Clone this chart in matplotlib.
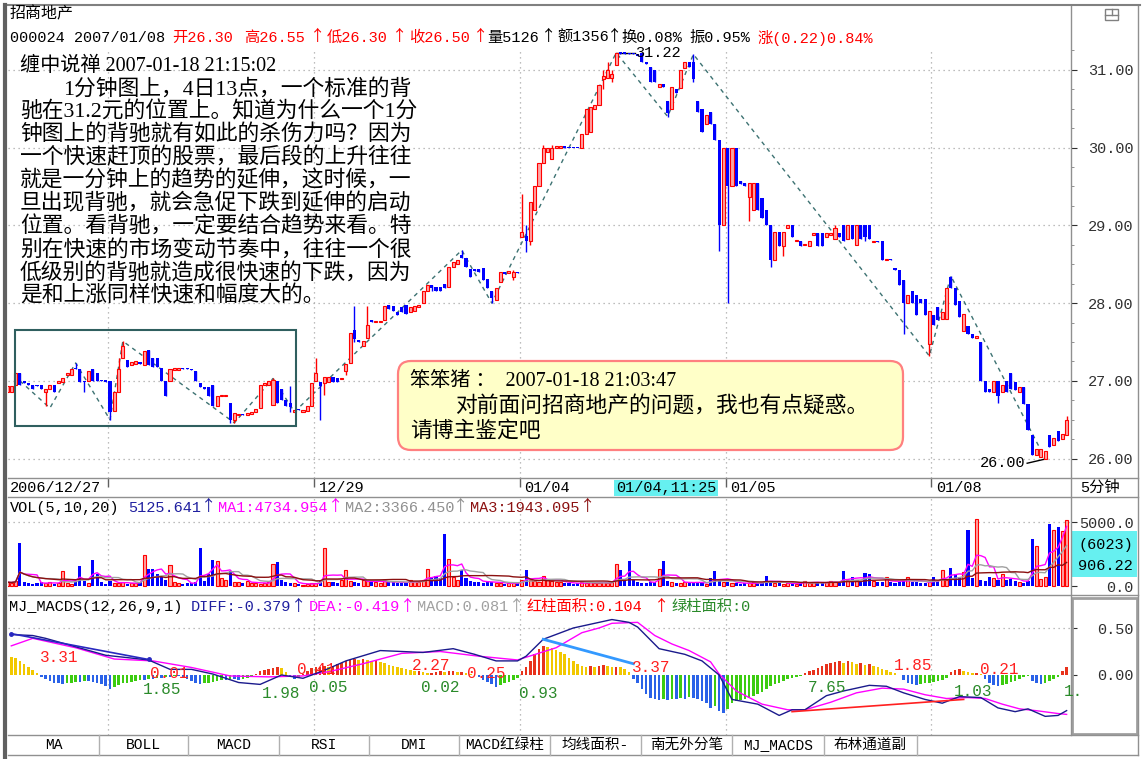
import numpy as np
import pandas as pd
import matplotlib
matplotlib.use("Agg")
import matplotlib.pyplot as plt
from matplotlib.patches import Rectangle, FancyBboxPatch

W, H = 1147, 759
MONO = ['Liberation Mono', 'Noto Sans CJK SC']
CJK = ['Noto Sans CJK SC', 'DejaVu Sans']
SERIF = ['Liberation Serif', 'Noto Sans CJK SC']

# ---- 000024 招商地产, 5-minute bars 2006/12/27 .. 2007/01/08 ----
opens = [
    26.86, 26.86, 26.95, 27.10, 27.00, 26.97, 26.95, 26.94, 26.95, 26.86,
    26.90, 26.95, 26.97, 26.98, 27.08, 27.07, 27.17, 27.15, 27.00, 27.00,
    27.15, 27.10, 27.01, 27.00, 27.00, 26.61, 26.86, 27.30, 27.27, 27.21,
    27.22, 27.24, 27.21, 27.40, 27.30, 27.30, 27.16, 27.00, 27.00, 27.14,
    27.14, 27.16, 27.16, 27.15, 27.12, 26.97, 26.92, 26.92, 26.95, 26.68,
    26.80, 26.80, 26.72, 26.50, 26.56, 26.57, 26.56, 26.57, 26.60, 26.65,
    26.95, 26.95, 26.69, 27.00, 26.90, 26.75, 26.72, 26.60, 26.64, 26.60,
    26.61, 26.68, 27.00, 26.99, 26.97, 26.98, 27.05, 27.03, 27.02, 27.12,
    27.23, 27.66, 27.53, 27.45, 27.55, 27.78, 27.76, 27.76, 27.78, 27.97,
    27.96, 27.88, 27.95, 27.98, 27.88, 27.90, 27.95, 28.00, 28.15, 28.23,
    28.21, 28.21, 28.25, 28.21, 28.47, 28.50, 28.62, 28.58, 28.44, 28.44,
    28.44, 28.45, 28.31, 28.15, 28.04, 28.27, 28.40, 28.39, 28.33, 28.40,
    28.85, 28.86, 28.80, 29.20, 29.50, 29.80, 29.94, 29.85, 30.00, 30.00,
    30.01, 30.00, 30.00, 30.00, 30.00, 30.17, 30.20, 30.50, 30.55, 30.88,
    30.90, 30.90, 31.06, 31.22, 31.22, 31.22, 31.22, 31.20, 31.22, 31.10,
    31.04, 31.00, 30.78, 30.82, 30.60, 30.50, 30.76, 30.77, 31.03, 31.10,
    31.10, 30.60, 30.50, 30.30, 30.46, 30.30, 30.10, 29.00, 30.00, 29.50,
    30.00, 29.57, 29.55, 29.36, 29.20, 29.55, 29.35, 29.20, 29.00, 28.55,
    28.92, 28.73, 28.97, 29.00, 28.80, 28.80, 28.75, 28.73, 28.88, 28.90,
    28.90, 28.85, 28.87, 28.83, 28.90, 29.00, 28.82, 29.00, 28.75, 29.00,
    29.00, 29.00, 28.79, 28.80, 28.80, 28.55, 28.57, 28.45, 28.43, 28.30,
    28.00, 28.15, 28.10, 28.05, 28.05, 27.48, 27.85, 27.95, 27.80, 27.80,
    28.33, 28.20, 28.03, 27.64, 27.70, 27.60, 27.55, 27.50, 27.00, 26.90,
    26.85, 27.00, 26.85, 27.00, 27.10, 26.98, 26.85, 26.92, 26.70, 26.30,
    26.05, 26.02, 26.00, 26.30, 26.17, 26.35, 26.25, 26.30,
]
closes = [
    26.93, 26.93, 27.10, 26.95, 26.97, 26.95, 26.90, 26.93, 26.90, 26.90,
    26.95, 26.86, 27.00, 27.03, 27.10, 27.15, 27.15, 26.99, 26.98, 27.13,
    27.00, 27.00, 27.00, 26.99, 26.60, 26.86, 27.15, 27.45, 27.18, 27.24,
    27.26, 27.22, 27.39, 27.20, 27.18, 27.18, 27.00, 26.80, 27.15, 27.16,
    27.16, 27.15, 27.15, 27.14, 27.00, 26.92, 26.90, 26.80, 26.68, 26.80,
    26.81, 26.81, 26.50, 26.58, 26.57, 26.56, 26.58, 26.60, 26.64, 26.95,
    26.97, 27.00, 27.01, 26.72, 26.75, 26.68, 26.66, 26.63, 26.62, 26.63,
    26.68, 26.97, 27.10, 26.93, 27.05, 27.05, 26.98, 26.98, 27.04, 27.22,
    27.62, 27.54, 27.50, 27.51, 27.72, 27.76, 27.77, 27.77, 27.96, 27.93,
    27.90, 27.85, 27.89, 27.86, 27.95, 27.96, 27.98, 28.15, 28.23, 28.20,
    28.15, 28.15, 28.19, 28.47, 28.53, 28.55, 28.58, 28.47, 28.33, 28.41,
    28.40, 28.30, 28.20, 28.06, 28.20, 28.40, 28.37, 28.41, 28.40, 28.39,
    28.92, 28.80, 29.30, 29.50, 29.80, 30.00, 30.00, 30.00, 30.02, 30.01,
    30.00, 29.99, 29.99, 29.99, 30.17, 30.50, 30.52, 30.55, 30.80, 30.92,
    31.00, 30.95, 31.22, 31.21, 31.21, 31.20, 31.20, 31.18, 31.10, 31.07,
    30.85, 30.85, 30.82, 30.78, 30.45, 30.78, 30.70, 31.00, 31.10, 31.04,
    30.88, 30.46, 30.20, 30.42, 30.30, 30.10, 29.00, 30.00, 29.50, 30.00,
    29.50, 29.53, 29.50, 29.55, 29.55, 29.20, 29.10, 29.00, 28.55, 28.92,
    28.73, 28.92, 29.00, 28.85, 28.81, 28.73, 28.76, 28.80, 28.90, 28.73,
    28.73, 28.90, 28.90, 28.96, 28.85, 28.80, 29.00, 28.83, 29.00, 28.83,
    28.85, 28.83, 28.80, 28.78, 28.55, 28.57, 28.55, 28.43, 28.23, 28.00,
    28.10, 28.00, 27.85, 28.00, 27.85, 27.90, 27.72, 27.78, 27.88, 28.20,
    28.20, 27.98, 27.82, 27.86, 27.60, 27.55, 27.58, 27.00, 26.85, 26.85,
    27.00, 26.80, 26.95, 26.85, 26.90, 26.88, 26.92, 26.70, 26.37, 26.05,
    26.12, 26.12, 26.10, 26.15, 26.27, 26.22, 26.32, 26.50,
]
upper_wick = {16: 27.23, 26: 27.30, 27: 27.51, 62: 27.03, 66: 26.93, 72: 27.29,
              81: 27.96, 84: 27.96, 106: 28.68, 118: 28.42, 120: 29.40, 121: 29.00,
              125: 30.03, 127: 30.03, 139: 31.00, 140: 31.10, 141: 31.00, 160: 31.20,
              193: 29.00, 220: 28.35, 247: 26.55}
lower_wick = {9: 26.67, 18: 26.85, 24: 26.50, 52: 26.46, 53: 26.46, 66: 26.60,
              73: 26.50, 74: 26.82, 79: 27.08, 81: 27.50, 99: 28.15, 113: 28.00,
              118: 28.30, 121: 28.66, 122: 28.75, 139: 30.75, 141: 30.85, 154: 30.40,
              160: 30.85, 166: 28.67, 168: 28.00, 173: 29.05, 178: 28.47, 181: 28.60,
              200: 28.80, 209: 27.60, 215: 27.32, 231: 26.72, 242: 26.00}
volumes = [
    300, 250, 400, 3380, 350, 200, 150, 250, 300, 200,
    300, 150, 200, 1200, 250, 150, 300, 1570, 400, 250,
    2030, 950, 350, 150, 400, 250, 200, 300, 150, 250,
    200, 350, 2430, 1300, 1300, 900, 700, 450, 1620, 300,
    200, 150, 250, 200, 350, 2970, 400, 900, 2030, 1950,
    600, 500, 1200, 350, 300, 250, 400, 200, 250, 150,
    200, 300, 1750, 1890, 500, 300, 250, 200, 150, 100,
    150, 200, 250, 400, 2970, 350, 300, 200, 500, 1270,
    400, 300, 250, 500, 400, 350, 300, 250, 400, 350,
    300, 250, 200, 300, 450, 400, 350, 500, 1350, 700,
    810, 600, 4050, 2080, 700, 500, 1270, 600, 400, 350,
    300, 250, 400, 300, 250, 200, 150, 200, 250, 300,
    450, 1270, 500, 400, 350, 810, 500, 400, 350, 300,
    200, 250, 150, 200, 300, 250, 350, 200, 250, 300,
    200, 350, 1680, 1220, 400, 1950, 500, 300, 250, 200,
    350, 300, 1300, 1950, 400, 300, 250, 200, 350, 300,
    250, 300, 200, 150, 620, 1140, 400, 350, 300, 250,
    200, 150, 250, 200, 300, 200, 250, 810, 300, 250,
    200, 150, 200, 250, 150, 300, 400, 200, 300, 250,
    200, 350, 400, 300, 250, 1140, 450, 730, 500, 400,
    1030, 950, 400, 350, 300, 680, 300, 250, 300, 400,
    730, 350, 300, 250, 200, 300, 680, 400, 1220, 500,
    1400, 900, 700, 1100, 4380, 600, 5270, 500, 400, 730,
    600, 500, 950, 450, 540, 400, 300, 250, 400, 3650,
    3100, 550, 700, 4860, 4380, 4600, 4320, 5126,
]
day_starts = [24, 72, 120, 168, 216]
date_labels = ['2006/12/27', '12/29', '01/04', '01/05', '01/08']
date_label_idx = [0, 72, 120, 168, 216]

# hand-drawn dashed zigzag (bar index, price)
zz_idx = [3, 10, 16, 24, 27, 53, 62, 67, 106, 113, 142, 154, 160, 215, 220, 242]
zz_price = [27.0, 26.65, 27.23, 26.5, 27.51, 26.46, 27.03, 26.6, 28.68, 28.0,
            31.22, 30.4, 31.2, 27.32, 28.35, 26.0]

# MJ_MACDS histogram per bar and DIFF / DEA read at sample bars
macd_hist = [
    0.20, 0.19, 0.18, 0.15, 0.12, 0.08, 0.05, 0.02, -0.02, -0.04,
    -0.06, -0.08, -0.09, -0.10, -0.09, -0.08, -0.07, -0.07, -0.06, -0.06,
    -0.07, -0.09, -0.10, -0.12, -0.15, -0.13, -0.11, -0.09, -0.08, -0.07,
    -0.06, -0.05, -0.05, -0.04, -0.04, -0.03, -0.03, -0.02, -0.02, -0.01,
    -0.01, -0.02, -0.04, -0.06, -0.08, -0.10, -0.09, -0.08, -0.07, -0.06,
    -0.05, -0.05, -0.04, -0.04, -0.05, -0.04, -0.03, -0.02, 0.01, 0.04,
    0.05, 0.06, 0.07, 0.08, 0.07, 0.03, -0.02, -0.04, -0.02, 0.01,
    0.04, 0.07, 0.08, 0.09, 0.10, 0.09, 0.10, 0.12, 0.13, 0.15,
    0.16, 0.17, 0.16, 0.17, 0.16, 0.15, 0.16, 0.14, 0.13, 0.11,
    0.10, 0.08, 0.07, 0.06, 0.05, 0.04, 0.04, 0.03, 0.02, 0.02,
    0.03, 0.04, 0.03, 0.04, 0.04, 0.03, 0.03, 0.02, 0.01, 0.00,
    -0.02, -0.05, -0.07, -0.10, -0.13, -0.11, -0.09, -0.07, -0.05, -0.03,
    0.04, 0.09, 0.15, 0.22, 0.28, 0.31, 0.30, 0.29, 0.27, 0.25,
    0.22, 0.18, 0.15, 0.12, 0.10, 0.09, 0.10, 0.09, 0.10, 0.11,
    0.10, 0.09, 0.09, 0.08, 0.06, 0.03, -0.04, -0.09, -0.15, -0.20,
    -0.24, -0.26, -0.27, -0.26, -0.27, -0.25, -0.26, -0.24, -0.25, -0.23,
    -0.24, -0.26, -0.28, -0.30, -0.35, -0.33, -0.38, -0.40, -0.36, -0.30,
    -0.28, -0.27, -0.26, -0.24, -0.22, -0.20, -0.18, -0.15, -0.12, -0.10,
    -0.08, -0.06, -0.04, -0.03, -0.02, -0.01, 0.02, 0.04, 0.05, 0.07,
    0.10, 0.12, 0.13, 0.14, 0.15, 0.13, 0.15, 0.14, 0.12, 0.13,
    0.11, 0.12, 0.10, 0.08, 0.06, 0.05, 0.03, 0.02, 0.00, -0.05,
    -0.08, -0.10, -0.11, -0.10, -0.09, -0.08, -0.07, -0.06, -0.05, -0.03,
    0.03, 0.05, 0.06, 0.04, 0.03, 0.02, 0.02, 0.01, -0.04, -0.08,
    -0.11, -0.12, -0.11, -0.10, -0.07, -0.06, -0.04, -0.02, -0.01, -0.06,
    -0.09, -0.10, -0.08, -0.06, -0.04, -0.02, 0.04, 0.08,
]
diff_idx = [1, 6, 9, 23, 33, 38, 43, 48, 54, 59, 64, 69, 74, 79, 87, 97, 104, 109,
            114, 119, 121, 125, 132, 138, 141, 145, 147, 152, 158, 162, 166, 169,
            175, 180, 183, 186, 191, 195, 201, 205, 209, 214, 218, 222, 227, 231,
            235, 238, 242, 245, 247]
diff_val = [0.43, 0.42, 0.39, 0.21, 0.16, 0.06, 0.06, 0.01, -0.08, -0.10, 0.0, -0.035,
            0.05, 0.15, 0.26, 0.24, 0.28, 0.22, 0.15, 0.15, 0.20, 0.38, 0.50, 0.56,
            0.59, 0.56, 0.51, 0.28, 0.22, 0.15, 0.0, -0.26, -0.31, -0.43, -0.37, -0.37,
            -0.22, -0.17, -0.11, -0.12, -0.19, -0.26, -0.30, -0.23, -0.24, -0.35,
            -0.39, -0.36, -0.44, -0.43, -0.379]
dea_idx = [1, 6, 16, 25, 34, 43, 52, 61, 69, 75, 83, 92, 101, 110, 119, 128, 134, 138,
           141, 147, 151, 155, 159, 164, 166, 170, 176, 182, 186, 192, 198, 204, 209,
           214, 219, 224, 228, 232, 236, 240, 245, 247]
dea_val = [0.31, 0.39, 0.29, 0.17, 0.15, 0.08, -0.01, -0.02, -0.01, 0.035, 0.12, 0.23,
           0.25, 0.20, 0.16, 0.29, 0.45, 0.50, 0.55, 0.56, 0.42, 0.33, 0.26, 0.14, 0.01,
           -0.17, -0.31, -0.37, -0.37, -0.29, -0.19, -0.14, -0.15, -0.21, -0.25, -0.24,
           -0.25, -0.31, -0.36, -0.38, -0.41, -0.419]

# numbers printed inside the MACD panel (text, left x px, centre y px, colour)
macd_marks = [("3.31", 40, 658, 'r'), ("1.85", 143, 689, 'g'), ("0.01", 150, 674, 'r'),
              ("1.98", 262, 694, 'g'), ("0.41", 297, 669, 'r'), ("0.05", 309, 688, 'g'),
              ("2.27", 412, 666, 'r'), ("0.02", 421, 688, 'g'), ("0.25", 467, 673, 'r'),
              ("0.93", 519, 694, 'g'), ("3.37", 632, 667, 'r'), ("7.65", 808, 688, 'g'),
              ("1.85", 894, 666, 'r'), ("1.03", 954, 692, 'g'), ("0.21", 980, 670, 'r'),
              ("1.", 1064, 692, 'g')]

note_lines = [
    "缠中说禅 2007-01-18 21:15:02",
    "1分钟图上，4日13点，一个标准的背",
    "驰在31.2元的位置上。知道为什么一个1分",
    "钟图上的背驰就有如此的杀伤力吗？因为",
    "一个快速赶顶的股票，最后段的上升往往",
    "就是一分钟上的趋势的延伸，这时候，一",
    "旦出现背驰，就会急促下跌到延伸的启动",
    "位置。看背驰，一定要结合趋势来看。特",
    "别在快速的市场变动节奏中，往往一个很",
    "低级别的背驰就造成很快速的下跌，因为",
    "是和上涨同样快速和幅度大的。",
]
reply_lines = ["笨笨猪 ：  2007-01-18 21:03:47",
               "对前面问招商地产的问题，我也有点疑惑。",
               "请博主鉴定吧"]
tabs = ["MA", "BOLL", "MACD", "RSI", "DMI", "MACD红绿柱", "均线面积-", "南无外分笔",
        "MJ_MACDS", "布林通道副"]
tab_edges = [8, 99, 188, 279, 369, 459, 550, 641, 732, 824, 917]

RED = '#ff0000'
BLUE = '#0000ff'
GRID = '#a8a8a8'
FRAME = '#909090'
FS = 11

fig = plt.figure(figsize=(W / 100, H / 100), dpi=100)
fig.patch.set_facecolor('white')


def panel(top, bottom):
    return fig.add_axes([8 / W, 1 - bottom / H, 1063 / W, (bottom - top) / H])


def right_axis(ax, ticks, labels):
    ax.yaxis.tick_right()
    ax.set_yticks(ticks)
    ax.set_yticklabels(labels, family=MONO, fontsize=FS)
    ax.tick_params(axis='y', which='major', length=4, pad=41, colors='#303030')
    for lab in ax.get_yticklabels():
        lab.set_ha('right')
    ax.set_xticks([])
    for s in ax.spines.values():
        s.set_visible(False)


XL = ((8 - 7) / 4.29, (1071 - 7) / 4.29)

# -------- price panel --------
axp = panel(48, 478)
axp.set_xlim(*XL)
axp.set_ylim(31 - 408 / 78.2, 31 + 22 / 78.2)

o = np.array(opens)
c = np.array(closes)
n = len(o)
idx = np.arange(n)
hi = np.array([upper_wick.get(i, max(o[i], c[i])) for i in range(n)])
lo = np.array([lower_wick.get(i, min(o[i], c[i])) for i in range(n)])
up = c > o

for lvl in range(26, 32):
    axp.axhline(lvl, color=GRID, lw=0.9, ls=(0, (1, 3)), zorder=0)
for d in day_starts:
    axp.axvline(d - 0.5, color=GRID, lw=0.9, ls=(0, (1, 3)), zorder=0)

axp.plot(zz_idx, zz_price, color='#3d7272', lw=1, ls=(0, (3, 3)), zorder=1)
axp.vlines(idx[up], lo[up], hi[up], color=RED, lw=1, zorder=2)
axp.vlines(idx[~up], lo[~up], hi[~up], color=BLUE, lw=1, zorder=2)
axp.bar(idx[up], np.maximum(c - o, 0.015)[up], bottom=o[up], width=0.72,
        facecolor='#ffa4a4', edgecolor=RED, lw=0.8, zorder=3)
axp.bar(idx[~up], np.maximum(o - c, 0.015)[~up], bottom=c[~up], width=0.72,
        color=BLUE, lw=0, zorder=3)

# peak / low labels and the framed area round 12/27-12/28
axp.plot([142, 146.3], [31.22, 31.22], color='black', lw=1)
axp.text(146.5, 31.22, "31.22", family=MONO, fontsize=FS, va='center', ha='left')
axp.plot([237.8, 242.5], [25.94, 26.0], color='black', lw=1)
axp.text(237.5, 25.94, "26.00", family=MONO, fontsize=FS, va='center', ha='right')
axp.add_patch(Rectangle((1.9, 26.42), 65.5, 1.23, fill=False, ec='#2f5f5f', lw=1.5, zorder=4))

right_axis(axp, range(26, 32), [f"{v:.2f}" for v in range(26, 32)])
axp.set_yticks(np.arange(25.75, 31.3, 0.25), minor=True)
axp.tick_params(axis='y', which='minor', length=2, colors='#808080')

# -------- date strip --------
axd = panel(478, 497)
axd.set_xlim(*XL)
axd.set_ylim(1, 0)
axd.axis('off')
axd.add_patch(Rectangle((141.5, 0.1), 24.3, 0.85, color='#66f0f0', lw=0))
for d in day_starts:
    axd.vlines(d - 0.5, 0, 0.45, color='#606060', lw=1)
for lab, i in zip(date_labels, date_label_idx):
    axd.text(i + 0.6, 0.55, lab, family=MONO, fontsize=FS, va='center')
axd.text(142.0, 0.55, "01/04,11:25", family=MONO, fontsize=FS, va='center')

# -------- volume panel --------
axv = panel(497, 595)
axv.set_xlim(*XL)
axv.set_ylim(-9 * 78.125, 89 * 78.125)
v = np.array(volumes, dtype=float)
vi = np.arange(len(v))
vup = up[:len(v)]
axv.axhline(5000, color=GRID, lw=0.9, ls=(0, (1, 3)), zorder=0)
for d in day_starts:
    axv.axvline(d - 0.5, color=GRID, lw=0.9, ls=(0, (1, 3)), zorder=0)
axv.bar(vi[vup], v[vup], width=0.72, facecolor='#ffa4a4', edgecolor=RED, lw=0.8)
axv.bar(vi[~vup], v[~vup], width=0.72, color=BLUE, lw=0)
vs = pd.Series(v)
axv.plot(vi, vs.rolling(5, min_periods=1).mean(), color='#ff00ff', lw=1)
axv.plot(vi, vs.rolling(10, min_periods=1).mean(), color='#a0a0a0', lw=1)
axv.plot(vi, vs.rolling(20, min_periods=1).mean(), color='#8b1010', lw=1)
right_axis(axv, [0, 5000], ["0.0", "5000.0"])

# -------- MACD panel --------
axm = panel(595, 735)
axm.set_xlim(*XL)
axm.set_ylim(-60 / 94, 80 / 94)
h = np.array(macd_hist)
hx = np.arange(len(h))
prev = np.concatenate([[h[0]], h[:-1]])
cols = np.where(h >= 0, np.where(h >= prev, '#e8321c', '#f2c800'),
                np.where(h <= prev, '#2a62e8', '#3ccc10'))
axm.axhline(0.5, color=GRID, lw=0.9, ls=(0, (1, 3)), zorder=0)
for d in day_starts:
    axm.axvline(d - 0.5, color=GRID, lw=0.9, ls=(0, (1, 3)), zorder=0)
axm.bar(hx, h, width=0.6, color=cols, lw=0)
axm.plot(dea_idx, dea_val, color='#ff00ff', lw=1)
axm.plot(diff_idx, diff_val, color='#1a1a8c', lw=1)
axm.plot([1, 33], [0.44, 0.165], color='#2828c0', lw=1.2, marker='o', ms=2.5)
axm.plot([125, 146], [0.38, 0.12], color='#3399ff', lw=2)
axm.plot([183, 223], [-0.39, -0.26], color='#ff2020', lw=1.2)
right_axis(axm, [0, 0.5], ["0.00", "0.50"])

# -------- overlay in pixel coordinates: frames and texts --------
ov = fig.add_axes([0, 0, 1, 1], zorder=10)
ov.set_xlim(0, W)
ov.set_ylim(H, 0)
ov.axis('off')
ov.patch.set_alpha(0)

for y in (478, 497, 595, 735, 755):
    ov.plot([8, 1138], [y, y], color=FRAME, lw=1)
ov.plot([1071, 1071], [5, 735], color=FRAME, lw=1)
ov.plot([1138, 1138], [5, 755], color=FRAME, lw=1)
ov.plot([5, 1140], [5, 5], color='#808080', lw=1.5)
ov.plot([5, 5], [5, 757], color='#606060', lw=3)
ov.add_patch(Rectangle((1072, 598), 65, 136, fill=False, ec='#a0a0a0', lw=2))
ov.add_patch(Rectangle((1105, 9), 13, 11, fill=False, ec='#808080', lw=1))
ov.plot([1105, 1118], [14.5, 14.5], color='#808080', lw=1)
ov.plot([1112, 1112], [9, 14.5], color='#808080', lw=1)


def arrow(x, y, col):
    ov.text(x, y, "↑", family=CJK, fontsize=11, color=col, va='center', ha='center')


# header
ov.text(10, 14, "招商地产", family=CJK, fontsize=11.5, va='center')
hdr = [("000024 2007/01/08", 10, 'black'), ("开26.30", 172, RED), ("高26.55", 244, RED),
       ("低26.30", 327, RED), ("收26.50", 409, RED), ("量5126", 487, 'black'),
       ("额1356", 557, 'black'), ("换0.08%", 621, 'black'), ("振0.95%", 689, 'black'),
       ("涨(0.22)0.84%", 758, RED)]
for s, x, col in hdr:
    ov.text(x, 38, s, family=MONO, fontsize=FS, color=col, va='center')
for x, col in [(318, RED), (400, RED), (481, RED), (549, 'black'), (615, 'black')]:
    arrow(x, 37, col)

# blog note
ov.text(20, 66, note_lines[0], family=SERIF, fontsize=14.5, va='center')
ov.text(63, 89, note_lines[1], family=SERIF, fontsize=15.7, va='center')
for k, line in enumerate(note_lines[2:]):
    ov.text(20, 112 + 23 * k, line, family=SERIF, fontsize=15.7, va='center')

# reply callout
ov.add_patch(FancyBboxPatch((398, 361), 505, 89, boxstyle="round,pad=0,rounding_size=13",
                            fc='#ffffc8', ec='#ff8080', lw=1.6))
ov.text(410, 381, reply_lines[0], family=SERIF, fontsize=14.5, va='center')
ov.text(455, 407, reply_lines[1], family=SERIF, fontsize=15.7, va='center')
ov.text(410, 432, reply_lines[2], family=SERIF, fontsize=15.7, va='center')

# volume / macd headers
vol_hdr = [("VOL(5,10,20)", 10, 'black'), ("5125.641", 128, '#2020a0'),
           ("MA1:4734.954", 218, '#ff00ff'), ("MA2:3366.450", 345, '#909090'),
           ("MA3:1943.095", 470, '#8b1010')]
for s, x, col in vol_hdr:
    ov.text(x, 508, s, family=MONO, fontsize=FS, color=col, va='center')
for x, col in [(209, '#2020a0'), (336, '#ff00ff'), (461, '#909090'), (588, '#8b1010')]:
    arrow(x, 507, col)
macd_hdr = [("MJ_MACDS(12,26,9,1)", 9, 'black'), ("DIFF:-0.379", 191, '#2020a0'),
            ("DEA:-0.419", 309, '#ff00ff'), ("MACD:0.081", 417, '#a0a0a0'),
            ("红柱面积:0.104", 526, RED), ("绿柱面积:0", 671, '#2a8a2a')]
for s, x, col in macd_hdr:
    ov.text(x, 607, s, family=MONO, fontsize=FS, color=col, va='center')
for x, col in [(299, '#2020a0'), (408, '#ff00ff'), (517, '#a0a0a0'), (662, RED)]:
    arrow(x, 606, col)
mark_col = {'r': '#ff2020', 'g': '#2a8a2a'}
for s, x, y, k in macd_marks:
    ov.text(x, y, s, family=MONO, fontsize=11.5, color=mark_col[k], va='center')

# right-hand boxes
ov.text(1080, 488, "5分钟", family=MONO, fontsize=FS, va='center')
ov.add_patch(Rectangle((1072, 531), 65, 46, color='#66f0f0', lw=0))
ov.text(1133, 545, "(6023)", family=MONO, fontsize=FS, va='center', ha='right')
ov.text(1133, 566, "906.22", family=MONO, fontsize=FS, va='center', ha='right')

# tab strip
for k, name in enumerate(tabs):
    x0, x1 = tab_edges[k], tab_edges[k + 1]
    ov.plot([x1, x1], [735, 755], color='#b0b0b0', lw=1)
    ov.text((x0 + x1) / 2, 745, name, family=MONO, fontsize=10.5, va='center', ha='center')

fig.savefig("out.png", dpi=100)
